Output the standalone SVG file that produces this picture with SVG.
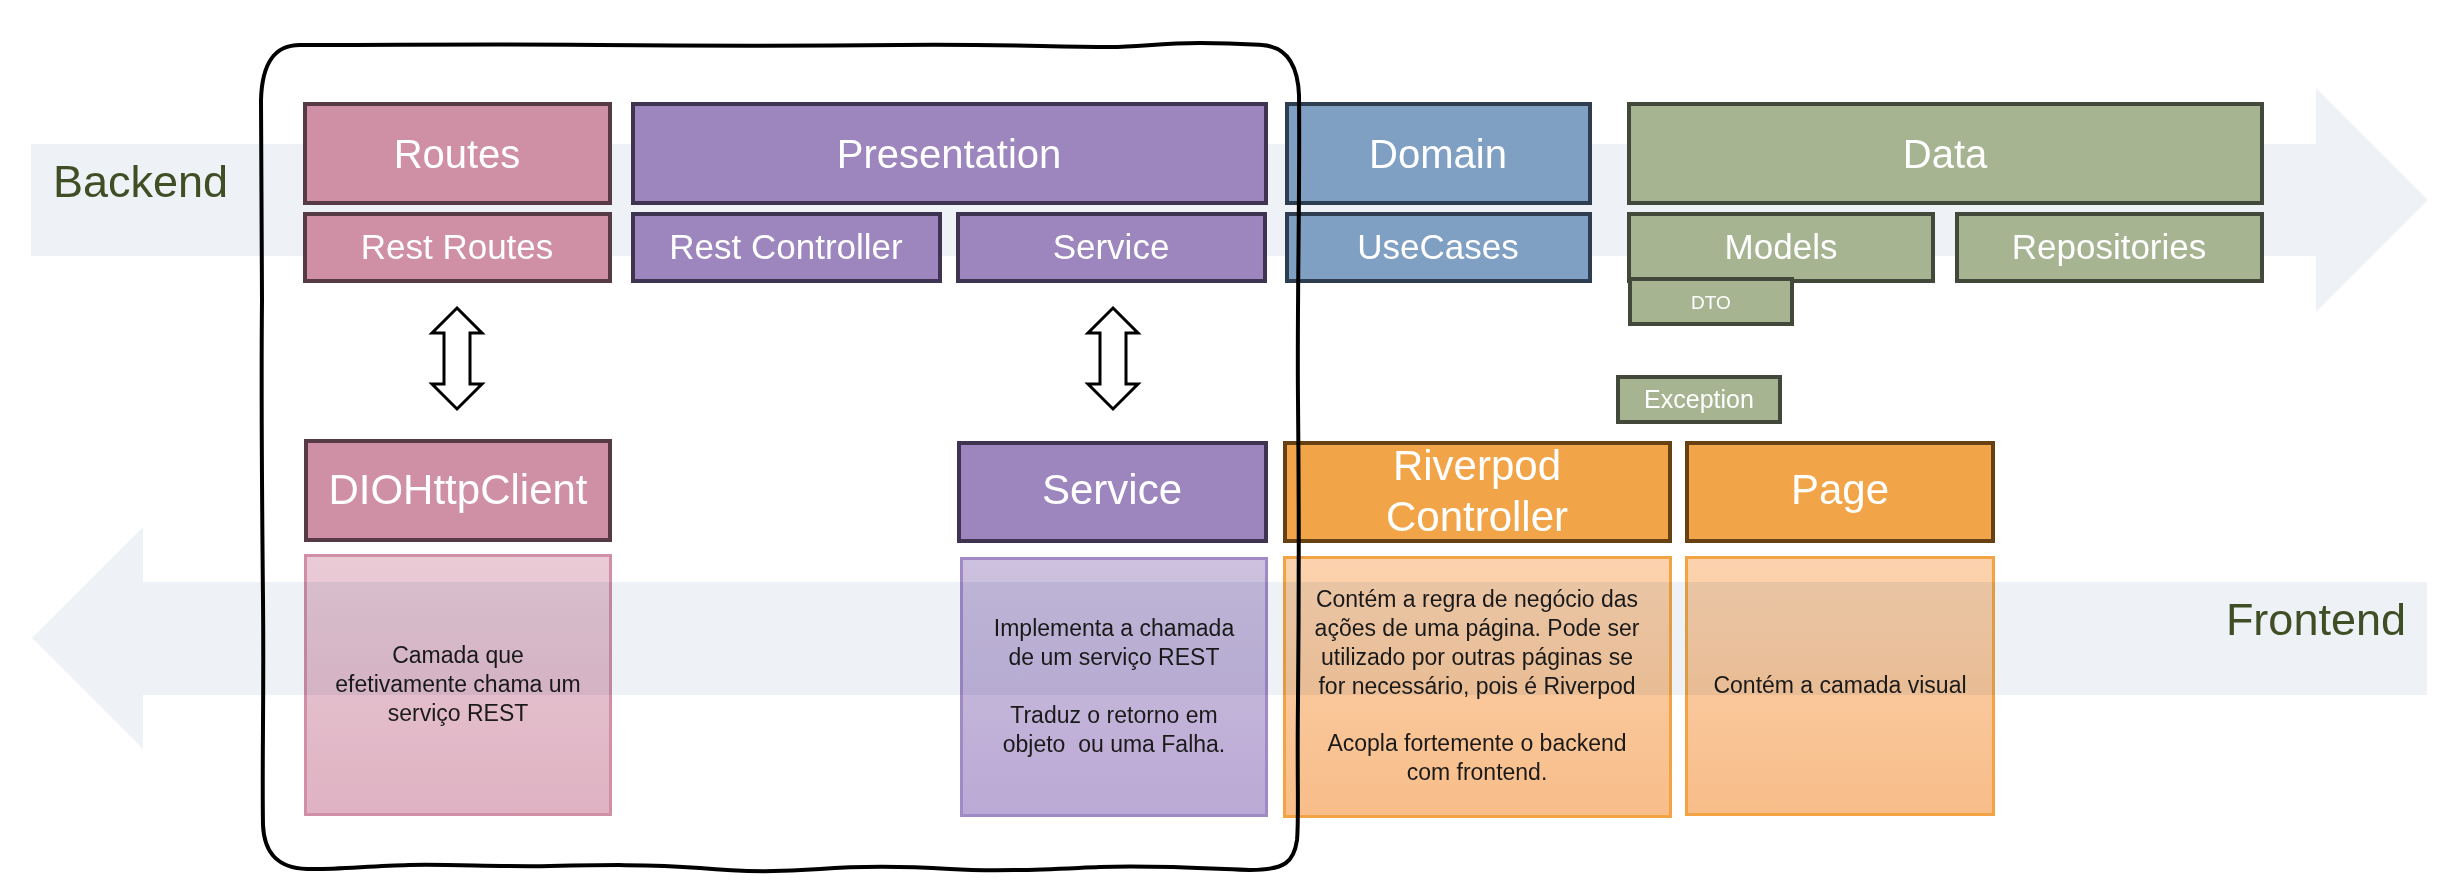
<svg xmlns="http://www.w3.org/2000/svg" width="2458" height="893" viewBox="0 0 2458 893">
<defs>
<linearGradient id="gPink" x1="0" y1="0" x2="0" y2="1"><stop offset="0" stop-color="#E9CBD6"/><stop offset="1" stop-color="#DFB2C2"/></linearGradient>
<linearGradient id="gPurple" x1="0" y1="0" x2="0" y2="1"><stop offset="0" stop-color="#CCC1DE"/><stop offset="1" stop-color="#BBA9D5"/></linearGradient>
<linearGradient id="gOrange" x1="0" y1="0" x2="0" y2="1"><stop offset="0" stop-color="#FBD3AE"/><stop offset="1" stop-color="#F8BD89"/></linearGradient>
<style>
text{font-family:"Liberation Sans",Arial,sans-serif}
.band{fill:#EEF1F6}
.bandm{fill:#EEF1F6;mix-blend-mode:multiply}
.t{fill:#FFFFFF;text-anchor:middle}
.big{font-size:40px}
.mid{font-size:35px}
.lg{font-size:42px}
.side{font-size:45px;fill:#404E26}
.d{font-size:23px;fill:#1A1A1A;text-anchor:middle}
.pre{white-space:pre}
.pink{fill:#CF8FA5;stroke:#563A46;stroke-width:4}
.purple{fill:#9D85BE;stroke:#3E3350;stroke-width:4}
.blue{fill:#7F9FC3;stroke:#2E3D4F;stroke-width:4}
.green{fill:#A6B491;stroke:#42493A;stroke-width:4}
.orange{fill:#F2A548;stroke:#664112;stroke-width:4}
.dpink{fill:url(#gPink);stroke:#D08FA6;stroke-width:3}
.dpurple{fill:url(#gPurple);stroke:#A08AC6;stroke-width:3}
.dorange{fill:url(#gOrange);stroke:#F2A444;stroke-width:3}
.dbl{fill:#FFFFFF;stroke:#000000;stroke-width:3;stroke-linejoin:miter}
.frame{fill:none;stroke:#000000;stroke-width:4;stroke-linecap:round;stroke-linejoin:round}
</style>
</defs>
<rect width="2458" height="893" fill="#FFFFFF"/>

<!-- Backend band arrow -->
<g id="backend-band">
<polygon class="band" points="31,144 2316,144 2316,88 2428,200 2316,312 2316,256 31,256"/>
<text class="side" x="53" y="197">Backend</text>
</g>

<!-- Backend nodes -->
<g id="routes"><rect class="pink" x="305" y="104" width="305" height="99"/><text class="t big" x="457" y="168">Routes</text></g>
<g id="rest-routes"><rect class="pink" x="305" y="214" width="305" height="67"/><text class="t mid" x="457" y="259">Rest Routes</text></g>
<g id="presentation"><rect class="purple" x="633" y="104" width="633" height="99"/><text class="t big" x="949" y="168">Presentation</text></g>
<g id="rest-controller"><rect class="purple" x="633" y="214" width="307" height="67"/><text class="t mid" x="786" y="259">Rest Controller</text></g>
<g id="service-backend"><rect class="purple" x="958" y="214" width="307" height="67"/><text class="t mid" x="1111" y="259">Service</text></g>
<g id="domain"><rect class="blue" x="1287" y="104" width="303" height="99"/><text class="t big" x="1438" y="168">Domain</text></g>
<g id="usecases"><rect class="blue" x="1287" y="214" width="303" height="67"/><text class="t mid" x="1438" y="259">UseCases</text></g>
<g id="data"><rect class="green" x="1629" y="104" width="633" height="99"/><text class="t big" x="1945" y="168">Data</text></g>
<g id="models"><rect class="green" x="1629" y="214" width="304" height="67"/><text class="t mid" x="1781" y="259">Models</text></g>
<g id="repositories"><rect class="green" x="1957" y="214" width="305" height="67"/><text class="t mid" x="2109" y="259">Repositories</text></g>
<g id="dto"><rect class="green" x="1630" y="279" width="162" height="45"/><text class="t" style="font-size:19px" x="1711" y="309">DTO</text></g>
<g id="exception"><rect class="green" x="1618" y="377" width="162" height="45"/><text class="t" style="font-size:25px" x="1699" y="408">Exception</text></g>

<!-- Frontend nodes -->
<g id="diohttpclient"><rect class="pink" x="306" y="441" width="304" height="99"/><text class="t lg" x="458" y="504">DIOHttpClient</text></g>
<g id="service-frontend"><rect class="purple" x="959" y="443" width="307" height="98"/><text class="t lg" x="1112" y="504">Service</text></g>
<g id="riverpod-controller"><rect class="orange" x="1285" y="443" width="385" height="98"/><text class="t lg" x="1477" y="480">Riverpod</text><text class="t lg" x="1477" y="531">Controller</text></g>
<g id="page"><rect class="orange" x="1687" y="443" width="306" height="98"/><text class="t lg" x="1840" y="504">Page</text></g>

<!-- Descriptions -->
<g id="desc-diohttpclient"><rect class="dpink" x="305.5" y="555.5" width="305" height="259"/>
<text class="d" x="458" y="663">Camada que</text>
<text class="d" x="458" y="692">efetivamente chama um</text>
<text class="d" x="458" y="721">serviço REST</text></g>
<g id="desc-service"><rect class="dpurple" x="961.5" y="558.5" width="305" height="257"/>
<text class="d" x="1114" y="636">Implementa a chamada</text>
<text class="d" x="1114" y="665">de um serviço REST</text>
<text class="d" x="1114" y="723">Traduz o retorno em</text>
<text class="d pre" x="1114" y="752" xml:space="preserve">objeto  ou uma Falha.</text></g>
<g id="desc-riverpod"><rect class="dorange" x="1284.5" y="557.5" width="386" height="259"/>
<text class="d" x="1477" y="607">Contém a regra de negócio das</text>
<text class="d" x="1477" y="636">ações de uma página. Pode ser</text>
<text class="d" x="1477" y="665">utilizado por outras páginas se</text>
<text class="d" x="1477" y="694">for necessário, pois é Riverpod</text>
<text class="d" x="1477" y="751">Acopla fortemente o backend</text>
<text class="d" x="1477" y="780">com frontend.</text></g>
<g id="desc-page"><rect class="dorange" x="1686.5" y="557.5" width="307" height="257"/>
<text class="d" x="1840" y="693">Contém a camada visual</text></g>

<!-- Frontend band arrow (drawn over descriptions, multiplied) -->
<g id="frontend-band">
<polygon class="bandm" points="2427,582 143,582 143,527 32,638 143,749 143,695 2427,695"/>
<text class="side" x="2406" y="635" text-anchor="end">Frontend</text>
</g>

<!-- Connectors -->
<g id="connectors">
<path class="dbl" d="M457,308 L482,333 L470,333 L470,384 L482,384 L457,409 L432,384 L444,384 L444,333 L432,333 Z"/>
<path class="dbl" d="M1113,308 L1138,333 L1126,333 L1126,384 L1138,384 L1113,409 L1088,384 L1100,384 L1100,333 L1088,333 Z"/>
</g>

<!-- Hand-drawn frame -->
<g id="frame">
<path class="frame" d="M300,45 C400,45 500,44 600,45 C700,46 800,46 900,45 C1000,44 1050,47 1110,47 C1140,47 1160,43 1200,43 C1230,43 1245,44 1262,45 C1290,47 1298,70 1299,95 C1300,200 1297,300 1298,400 C1299,500 1299,600 1298,700 C1297,780 1299,820 1297,840 C1294,862 1285,870 1250,870 C1200,868 1150,865 1100,867 C1050,869 1000,872 950,869 C900,866 860,866 820,869 C780,872 740,872 700,868 C650,864 600,865 550,866 C500,867 450,864 409,865 C370,866 330,870 307,869 C275,868 264,850 263,825 C262,760 264,700 263,600 C262,500 261,400 262,300 C262,220 261,150 261,100 C262,62 275,45 300,45 Z"/>
</g>
</svg>
